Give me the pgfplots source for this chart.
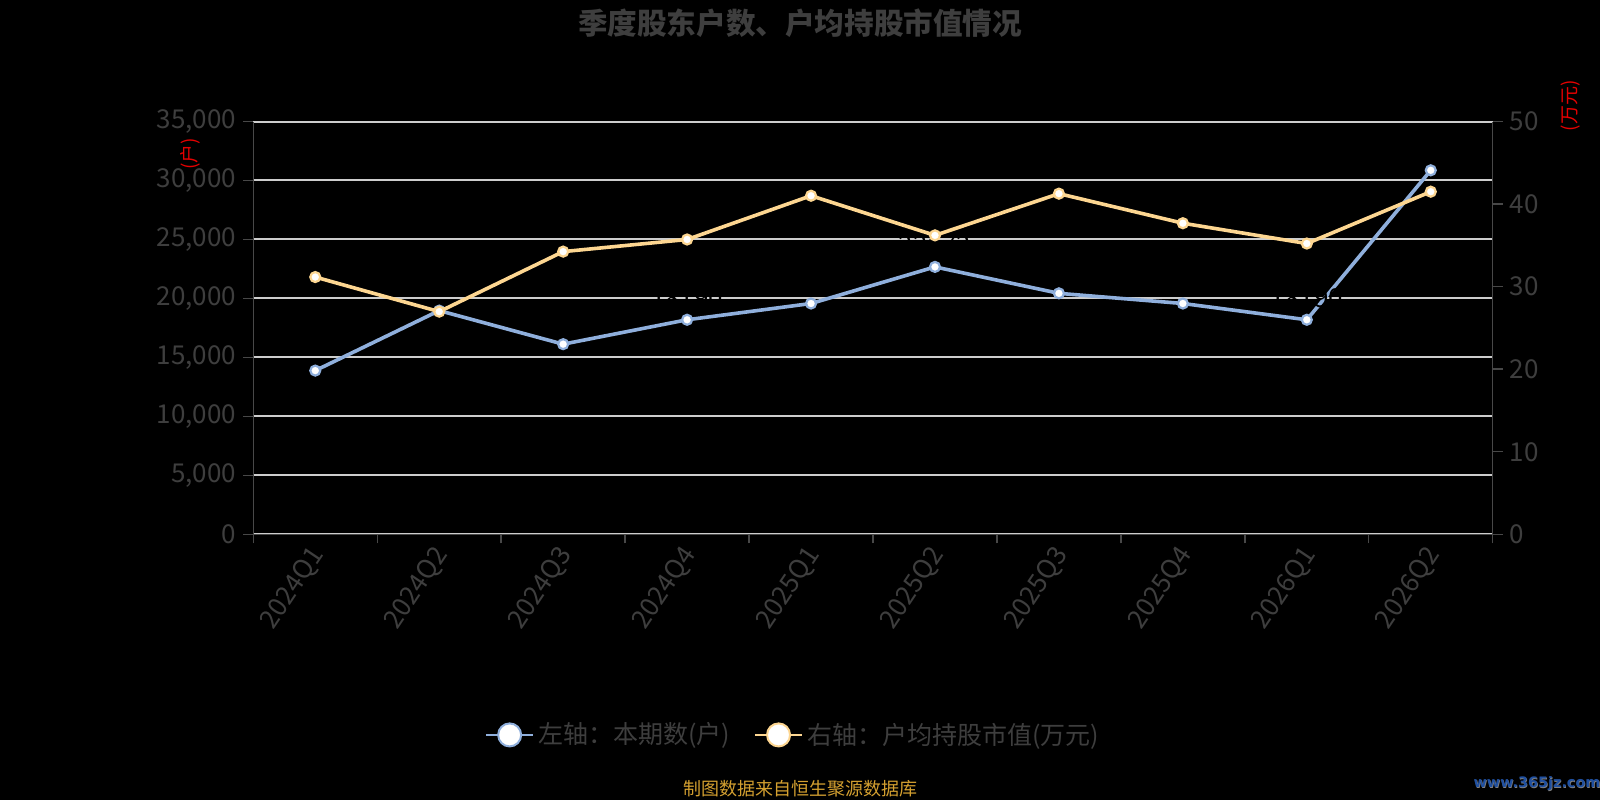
\documentclass[border=0pt]{standalone}
\usepackage{fontspec}
\setmainfont{Noto Sans CJK SC}
\newfontfamily\wmfont{DejaVu Sans}
\usepackage{pgfplots}
\pgfplotsset{compat=1.18}
\definecolor{txt}{RGB}{62,62,62}
\definecolor{axl}{RGB}{72,72,72}
\definecolor{grd}{RGB}{205,205,205}
\definecolor{blueC}{RGB}{143,175,220}
\definecolor{orangeC}{RGB}{253,214,145}
\definecolor{footC}{RGB}{212,160,48}
\definecolor{wmC}{RGB}{32,80,160}
\definecolor{redC}{RGB}{230,0,0}
\begin{document}
\begin{tikzpicture}
\fill[black] (0,0) rectangle (800pt,400pt);
\begin{axis}[
  at={(126.65pt,132.85pt)}, anchor=south west,
  width=619.7pt, height=206.4pt, scale only axis,
  xmin=-0.5, xmax=9.5, ymin=0, ymax=35000,
  axis x line*=bottom, axis y line*=left,
  axis line style={axl, line width=0.7pt, -},
  xtick={0,...,9},
  xticklabels={2024Q1,2024Q2,2024Q3,2024Q4,2025Q1,2025Q2,2025Q3,2025Q4,2026Q1,2026Q2},
  minor xtick={-0.5,0.5,...,9.5},
  major x tick style={draw=none},
  minor tick length=4.5pt,
  ytick={0,5000,...,35000},
  ymajorgrids, grid style={grd, line width=1pt},
  tick align=outside, major tick length=5pt,
  tick style={axl, line width=0.7pt},
  yticklabel style={txt, font=\fontsize{13}{13}\selectfont},
  xticklabel style={txt, font=\fontsize{13}{13}\selectfont, rotate=56, anchor=east, yshift=-3pt, xshift=2pt},
  scaled y ticks=false,
  /pgf/number format/1000 sep={,},
  /pgf/number format/assume math mode=true,
  clip=false,
]
\addplot[blueC, line width=1.8pt, mark=*, mark size=2.5pt,
  mark options={fill=white, draw=blueC, line width=1.1pt},
  nodes near coords, point meta=explicit symbolic,
  every node near coord/.append style={black, font=\fontsize{13}{13}\selectfont, yshift=2pt}]
  coordinates {
  (0,13880) []
  (1,18966) []
  (2,16121) []
  (3,18190) [18190]
  (4,19569) []
  (5,22672) [22672]
  (6,20431) []
  (7,19569) []
  (8,18190) [18190]
  (9,30862) []
  };
\end{axis}
\begin{axis}[
  at={(126.65pt,132.85pt)}, anchor=south west,
  width=619.7pt, height=206.4pt, scale only axis,
  xmin=-0.5, xmax=9.5, ymin=0, ymax=50,
  axis x line=none, axis y line*=right,
  axis line style={axl, line width=0.7pt, -},
  ytick={0,10,...,50},
  tick align=outside, major tick length=5pt,
  tick style={axl, line width=0.7pt},
  yticklabel style={txt, font=\fontsize{13}{13}\selectfont},
  /pgf/number format/assume math mode=true,
  clip=false,
  legend style={at={(0.4363,-0.486)}, anchor=center, draw=none, fill=none,
    text=txt, font=\fontsize{12.5}{12.5}\selectfont,
    /tikz/every even column/.append style={column sep=10pt}},
  legend columns=2,
]
\addlegendimage{legend image code/.code={
  \draw[blueC, line width=1pt] (0pt,0pt) -- (23.5pt,0pt);
  \draw[blueC, fill=white, line width=1pt] (11.75pt,0pt) circle (5.75pt);}}
\addlegendentry{左轴：本期数(户)}
\addlegendimage{legend image code/.code={
  \draw[orangeC, line width=1pt] (0pt,0pt) -- (23.5pt,0pt);
  \draw[orangeC, fill=white, line width=1pt] (11.75pt,0pt) circle (5.75pt);}}
\addlegendentry{右轴：户均持股市值(万元)}
\addplot[forget plot, orangeC, line width=1.8pt, mark=*, mark size=2.5pt,
  mark options={fill=white, draw=orangeC, line width=1.1pt}]
  coordinates {
  (0,31.16)
  (1,26.97)
  (2,34.24)
  (3,35.71)
  (4,41.01)
  (5,36.21)
  (6,41.26)
  (7,37.68)
  (8,35.22)
  (9,41.50)
  };
\end{axis}
\node[txt, font=\bfseries\fontsize{14.8}{14.8}\selectfont] at (400pt,388.5pt) {季度股东户数、户均持股市值情况};
\node[redC, rotate=90, font=\fontsize{9.5}{9.5}\selectfont] at (95.3pt,323pt) {(户)};
\node[redC, rotate=90, font=\fontsize{9.5}{9.5}\selectfont] at (785.3pt,347.2pt) {(万元)};
\node[footC, font=\fontsize{9}{9}\selectfont] at (400pt,5.5pt) {制图数据来自恒生聚源数据库};
\node[gray, font=\wmfont\bfseries\fontsize{7.2}{7.2}\selectfont] at (768.8pt,7.7pt) {www.365jz.com};
\node[wmC, font=\wmfont\bfseries\fontsize{7.2}{7.2}\selectfont] at (768.5pt,8pt) {www.365jz.com};
\pgfresetboundingbox
\path[use as bounding box] (0,0) rectangle (800pt,400pt);
\end{tikzpicture}
\end{document}
